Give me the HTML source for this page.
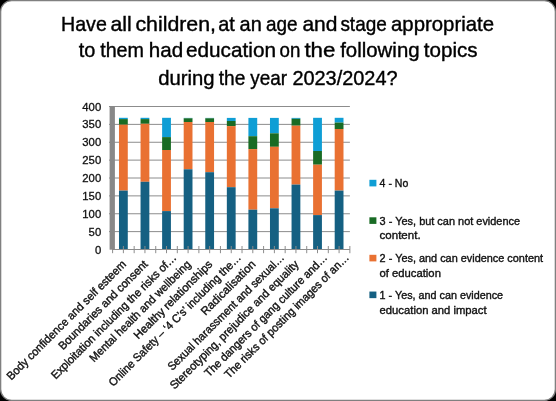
<!DOCTYPE html><html><head><meta charset="utf-8"><style>html,body{margin:0;padding:0;width:556px;height:401px;overflow:hidden;background:#000}</style></head><body><svg width="556" height="401" viewBox="0 0 556 401" style="position:absolute;left:0;top:0;will-change:transform"><rect x="0" y="0" width="556" height="401" fill="#000"/><rect x="0.65" y="0.65" width="554.7" height="399.7" rx="11" ry="11" fill="#fff" stroke="#808080" stroke-width="1.3"/><text x="61.00" y="30.9" textLength="45.80" lengthAdjust="spacingAndGlyphs" font-family="Liberation Sans" font-size="21" fill="#000" stroke="#000" stroke-width="0.4">Have</text><text x="110.40" y="30.9" textLength="21.20" lengthAdjust="spacingAndGlyphs" font-family="Liberation Sans" font-size="21" fill="#000" stroke="#000" stroke-width="0.4">all</text><text x="135.40" y="30.9" textLength="80.60" lengthAdjust="spacingAndGlyphs" font-family="Liberation Sans" font-size="21" fill="#000" stroke="#000" stroke-width="0.4">children,</text><text x="218.20" y="30.9" textLength="16.60" lengthAdjust="spacingAndGlyphs" font-family="Liberation Sans" font-size="21" fill="#000" stroke="#000" stroke-width="0.4">at</text><text x="239.60" y="30.9" textLength="22.20" lengthAdjust="spacingAndGlyphs" font-family="Liberation Sans" font-size="21" fill="#000" stroke="#000" stroke-width="0.4">an</text><text x="266.00" y="30.9" textLength="31.60" lengthAdjust="spacingAndGlyphs" font-family="Liberation Sans" font-size="21" fill="#000" stroke="#000" stroke-width="0.4">age</text><text x="302.40" y="30.9" textLength="35.00" lengthAdjust="spacingAndGlyphs" font-family="Liberation Sans" font-size="21" fill="#000" stroke="#000" stroke-width="0.4">and</text><text x="340.40" y="30.9" textLength="46.40" lengthAdjust="spacingAndGlyphs" font-family="Liberation Sans" font-size="21" fill="#000" stroke="#000" stroke-width="0.4">stage</text><text x="391.00" y="30.9" textLength="103.00" lengthAdjust="spacingAndGlyphs" font-family="Liberation Sans" font-size="21" fill="#000" stroke="#000" stroke-width="0.4">appropriate</text><text x="78.80" y="57.3" textLength="16.60" lengthAdjust="spacingAndGlyphs" font-family="Liberation Sans" font-size="21" fill="#000" stroke="#000" stroke-width="0.4">to</text><text x="100.20" y="57.3" textLength="43.80" lengthAdjust="spacingAndGlyphs" font-family="Liberation Sans" font-size="21" fill="#000" stroke="#000" stroke-width="0.4">them</text><text x="148.80" y="57.3" textLength="34.40" lengthAdjust="spacingAndGlyphs" font-family="Liberation Sans" font-size="21" fill="#000" stroke="#000" stroke-width="0.4">had</text><text x="186.00" y="57.3" textLength="90.00" lengthAdjust="spacingAndGlyphs" font-family="Liberation Sans" font-size="21" fill="#000" stroke="#000" stroke-width="0.4">education</text><text x="279.60" y="57.3" textLength="20.80" lengthAdjust="spacingAndGlyphs" font-family="Liberation Sans" font-size="21" fill="#000" stroke="#000" stroke-width="0.4">on</text><text x="304.40" y="57.3" textLength="31.00" lengthAdjust="spacingAndGlyphs" font-family="Liberation Sans" font-size="21" fill="#000" stroke="#000" stroke-width="0.4">the</text><text x="340.20" y="57.3" textLength="79.40" lengthAdjust="spacingAndGlyphs" font-family="Liberation Sans" font-size="21" fill="#000" stroke="#000" stroke-width="0.4">following</text><text x="423.80" y="57.3" textLength="53.80" lengthAdjust="spacingAndGlyphs" font-family="Liberation Sans" font-size="21" fill="#000" stroke="#000" stroke-width="0.4">topics</text><text x="158.20" y="84.7" textLength="56.40" lengthAdjust="spacingAndGlyphs" font-family="Liberation Sans" font-size="21" fill="#000" stroke="#000" stroke-width="0.4">during</text><text x="218.80" y="84.7" textLength="26.60" lengthAdjust="spacingAndGlyphs" font-family="Liberation Sans" font-size="21" fill="#000" stroke="#000" stroke-width="0.4">the</text><text x="250.20" y="84.7" textLength="36.80" lengthAdjust="spacingAndGlyphs" font-family="Liberation Sans" font-size="21" fill="#000" stroke="#000" stroke-width="0.4">year</text><text x="292.40" y="84.7" textLength="105.20" lengthAdjust="spacingAndGlyphs" font-family="Liberation Sans" font-size="21" fill="#000" stroke="#000" stroke-width="0.4">2023/2024?</text><line x1="109" y1="231.62" x2="349.9" y2="231.62" stroke="#8c8c8c" stroke-width="1"/><line x1="109" y1="213.75" x2="349.9" y2="213.75" stroke="#8c8c8c" stroke-width="1"/><line x1="109" y1="195.88" x2="349.9" y2="195.88" stroke="#8c8c8c" stroke-width="1"/><line x1="109" y1="178.00" x2="349.9" y2="178.00" stroke="#8c8c8c" stroke-width="1"/><line x1="109" y1="160.12" x2="349.9" y2="160.12" stroke="#8c8c8c" stroke-width="1"/><line x1="109" y1="142.25" x2="349.9" y2="142.25" stroke="#8c8c8c" stroke-width="1"/><line x1="109" y1="124.38" x2="349.9" y2="124.38" stroke="#8c8c8c" stroke-width="1"/><line x1="109" y1="106.50" x2="349.9" y2="106.50" stroke="#8c8c8c" stroke-width="1"/><text x="101.2" y="253.50" text-anchor="end" font-family="Liberation Sans" font-size="11.3" fill="#111" stroke="#111" stroke-width="0.3">0</text><text x="101.2" y="235.62" text-anchor="end" font-family="Liberation Sans" font-size="11.3" fill="#111" stroke="#111" stroke-width="0.3">50</text><text x="101.2" y="217.75" text-anchor="end" font-family="Liberation Sans" font-size="11.3" fill="#111" stroke="#111" stroke-width="0.3">100</text><text x="101.2" y="199.88" text-anchor="end" font-family="Liberation Sans" font-size="11.3" fill="#111" stroke="#111" stroke-width="0.3">150</text><text x="101.2" y="182.00" text-anchor="end" font-family="Liberation Sans" font-size="11.3" fill="#111" stroke="#111" stroke-width="0.3">200</text><text x="101.2" y="164.12" text-anchor="end" font-family="Liberation Sans" font-size="11.3" fill="#111" stroke="#111" stroke-width="0.3">250</text><text x="101.2" y="146.25" text-anchor="end" font-family="Liberation Sans" font-size="11.3" fill="#111" stroke="#111" stroke-width="0.3">300</text><text x="101.2" y="128.38" text-anchor="end" font-family="Liberation Sans" font-size="11.3" fill="#111" stroke="#111" stroke-width="0.3">350</text><text x="101.2" y="110.50" text-anchor="end" font-family="Liberation Sans" font-size="11.3" fill="#111" stroke="#111" stroke-width="0.3">400</text><rect x="118.98" y="117.8" width="8.8" height="1.30" fill="#0F9ED5"/><rect x="118.98" y="119.1" width="8.8" height="5.60" fill="#196B24"/><rect x="118.98" y="124.7" width="8.8" height="65.90" fill="#E97132"/><rect x="118.98" y="190.6" width="8.8" height="58.80" fill="#156082"/><rect x="140.55" y="117.8" width="8.8" height="1.30" fill="#0F9ED5"/><rect x="140.55" y="119.1" width="8.8" height="4.70" fill="#196B24"/><rect x="140.55" y="123.8" width="8.8" height="58.00" fill="#E97132"/><rect x="140.55" y="181.8" width="8.8" height="67.60" fill="#156082"/><rect x="162.12" y="117.8" width="8.8" height="19.30" fill="#0F9ED5"/><rect x="162.12" y="137.1" width="8.8" height="12.90" fill="#196B24"/><rect x="162.12" y="150.0" width="8.8" height="61.10" fill="#E97132"/><rect x="162.12" y="211.1" width="8.8" height="38.30" fill="#156082"/><rect x="183.69" y="117.9" width="8.8" height="0.40" fill="#0F9ED5"/><rect x="183.69" y="118.3" width="8.8" height="3.70" fill="#196B24"/><rect x="183.69" y="122.0" width="8.8" height="47.30" fill="#E97132"/><rect x="183.69" y="169.3" width="8.8" height="80.10" fill="#156082"/><rect x="205.26" y="117.9" width="8.8" height="0.40" fill="#0F9ED5"/><rect x="205.26" y="118.3" width="8.8" height="3.70" fill="#196B24"/><rect x="205.26" y="122.0" width="8.8" height="50.20" fill="#E97132"/><rect x="205.26" y="172.2" width="8.8" height="77.20" fill="#156082"/><rect x="226.84" y="117.9" width="8.8" height="3.10" fill="#0F9ED5"/><rect x="226.84" y="121.0" width="8.8" height="5.10" fill="#196B24"/><rect x="226.84" y="126.1" width="8.8" height="61.10" fill="#E97132"/><rect x="226.84" y="187.2" width="8.8" height="62.20" fill="#156082"/><rect x="248.41" y="117.9" width="8.8" height="18.30" fill="#0F9ED5"/><rect x="248.41" y="136.2" width="8.8" height="12.90" fill="#196B24"/><rect x="248.41" y="149.1" width="8.8" height="60.60" fill="#E97132"/><rect x="248.41" y="209.7" width="8.8" height="39.70" fill="#156082"/><rect x="269.98" y="117.9" width="8.8" height="15.40" fill="#0F9ED5"/><rect x="269.98" y="133.3" width="8.8" height="13.50" fill="#196B24"/><rect x="269.98" y="146.8" width="8.8" height="61.50" fill="#E97132"/><rect x="269.98" y="208.3" width="8.8" height="41.10" fill="#156082"/><rect x="291.55" y="117.9" width="8.8" height="0.90" fill="#0F9ED5"/><rect x="291.55" y="118.8" width="8.8" height="6.90" fill="#196B24"/><rect x="291.55" y="125.7" width="8.8" height="58.90" fill="#E97132"/><rect x="291.55" y="184.6" width="8.8" height="64.80" fill="#156082"/><rect x="313.12" y="117.8" width="8.8" height="33.20" fill="#0F9ED5"/><rect x="313.12" y="151.0" width="8.8" height="13.70" fill="#196B24"/><rect x="313.12" y="164.7" width="8.8" height="50.40" fill="#E97132"/><rect x="313.12" y="215.1" width="8.8" height="34.30" fill="#156082"/><rect x="334.69" y="117.8" width="8.8" height="4.80" fill="#0F9ED5"/><rect x="334.69" y="122.6" width="8.8" height="6.40" fill="#196B24"/><rect x="334.69" y="129.0" width="8.8" height="61.60" fill="#E97132"/><rect x="334.69" y="190.6" width="8.8" height="58.80" fill="#156082"/><line x1="112.6" y1="249.5" x2="349.9" y2="249.5" stroke="#8c8c8c" stroke-width="1.1"/><line x1="112.60" y1="246" x2="112.60" y2="253.2" stroke="#8c8c8c" stroke-width="1"/><line x1="123.38" y1="246" x2="123.38" y2="253.2" stroke="#8c8c8c" stroke-width="1"/><line x1="134.17" y1="246" x2="134.17" y2="253.2" stroke="#8c8c8c" stroke-width="1"/><line x1="144.95" y1="246" x2="144.95" y2="253.2" stroke="#8c8c8c" stroke-width="1"/><line x1="155.74" y1="246" x2="155.74" y2="253.2" stroke="#8c8c8c" stroke-width="1"/><line x1="166.52" y1="246" x2="166.52" y2="253.2" stroke="#8c8c8c" stroke-width="1"/><line x1="177.31" y1="246" x2="177.31" y2="253.2" stroke="#8c8c8c" stroke-width="1"/><line x1="188.09" y1="246" x2="188.09" y2="253.2" stroke="#8c8c8c" stroke-width="1"/><line x1="198.88" y1="246" x2="198.88" y2="253.2" stroke="#8c8c8c" stroke-width="1"/><line x1="209.66" y1="246" x2="209.66" y2="253.2" stroke="#8c8c8c" stroke-width="1"/><line x1="220.45" y1="246" x2="220.45" y2="253.2" stroke="#8c8c8c" stroke-width="1"/><line x1="231.24" y1="246" x2="231.24" y2="253.2" stroke="#8c8c8c" stroke-width="1"/><line x1="242.02" y1="246" x2="242.02" y2="253.2" stroke="#8c8c8c" stroke-width="1"/><line x1="252.81" y1="246" x2="252.81" y2="253.2" stroke="#8c8c8c" stroke-width="1"/><line x1="263.59" y1="246" x2="263.59" y2="253.2" stroke="#8c8c8c" stroke-width="1"/><line x1="274.38" y1="246" x2="274.38" y2="253.2" stroke="#8c8c8c" stroke-width="1"/><line x1="285.16" y1="246" x2="285.16" y2="253.2" stroke="#8c8c8c" stroke-width="1"/><line x1="295.94" y1="246" x2="295.94" y2="253.2" stroke="#8c8c8c" stroke-width="1"/><line x1="306.73" y1="246" x2="306.73" y2="253.2" stroke="#8c8c8c" stroke-width="1"/><line x1="317.51" y1="246" x2="317.51" y2="253.2" stroke="#8c8c8c" stroke-width="1"/><line x1="328.30" y1="246" x2="328.30" y2="253.2" stroke="#8c8c8c" stroke-width="1"/><line x1="339.09" y1="246" x2="339.09" y2="253.2" stroke="#8c8c8c" stroke-width="1"/><line x1="349.87" y1="246" x2="349.87" y2="253.2" stroke="#8c8c8c" stroke-width="1"/><rect x="109.6" y="106.2" width="5.3" height="143.5" fill="#888888"/><rect x="369.4" y="179.8" width="7" height="6.6" fill="#0F9ED5"/><text x="379.6" y="187.00" textLength="28.7" lengthAdjust="spacingAndGlyphs" font-family="Liberation Sans" font-size="11.5" fill="#111" stroke="#111" stroke-width="0.38">4 - No</text><rect x="369.4" y="217.3" width="7" height="6.6" fill="#196B24"/><text x="379.6" y="224.50" textLength="140.5" lengthAdjust="spacingAndGlyphs" font-family="Liberation Sans" font-size="11.5" fill="#111" stroke="#111" stroke-width="0.38">3 - Yes, but can not evidence</text><text x="379.6" y="239.25" textLength="41.0" lengthAdjust="spacingAndGlyphs" font-family="Liberation Sans" font-size="11.5" fill="#111" stroke="#111" stroke-width="0.38">content.</text><rect x="369.4" y="254.8" width="7" height="6.6" fill="#E97132"/><text x="379.6" y="262.00" textLength="163.5" lengthAdjust="spacingAndGlyphs" font-family="Liberation Sans" font-size="11.5" fill="#111" stroke="#111" stroke-width="0.38">2 - Yes, and can evidence content</text><text x="379.6" y="276.75" textLength="61.3" lengthAdjust="spacingAndGlyphs" font-family="Liberation Sans" font-size="11.5" fill="#111" stroke="#111" stroke-width="0.38">of education</text><rect x="369.4" y="291.55" width="7" height="6.6" fill="#156082"/><text x="379.6" y="298.75" textLength="123.5" lengthAdjust="spacingAndGlyphs" font-family="Liberation Sans" font-size="11.5" fill="#111" stroke="#111" stroke-width="0.38">1 - Yes, and can evidence</text><text x="379.6" y="313.50" textLength="107.0" lengthAdjust="spacingAndGlyphs" font-family="Liberation Sans" font-size="11.5" fill="#111" stroke="#111" stroke-width="0.38">education and impact</text><text x="0" y="0" text-anchor="end" textLength="163.6" lengthAdjust="spacingAndGlyphs" transform="translate(126.88,265.0) rotate(-45)" font-family="Liberation Sans" font-size="11.5" fill="#111" stroke="#111" stroke-width="0.38">Body confidence and self esteem</text><text x="0" y="0" text-anchor="end" textLength="121.0" lengthAdjust="spacingAndGlyphs" transform="translate(148.45,265.0) rotate(-45)" font-family="Liberation Sans" font-size="11.5" fill="#111" stroke="#111" stroke-width="0.38">Boundaries and consent</text><text x="0" y="0" text-anchor="end" textLength="171.6" lengthAdjust="spacingAndGlyphs" transform="translate(177.02,258.4) rotate(-45)" font-family="Liberation Sans" font-size="11.5" fill="#111" stroke="#111" stroke-width="0.38">Exploitation including the risks of…</text><text x="0" y="0" text-anchor="end" textLength="138.1" lengthAdjust="spacingAndGlyphs" transform="translate(191.59,265.0) rotate(-45)" font-family="Liberation Sans" font-size="11.5" fill="#111" stroke="#111" stroke-width="0.38">Mental health and wellbeing</text><text x="0" y="0" text-anchor="end" textLength="105.8" lengthAdjust="spacingAndGlyphs" transform="translate(213.16,265.0) rotate(-45)" font-family="Liberation Sans" font-size="11.5" fill="#111" stroke="#111" stroke-width="0.38">Healthy relationships</text><text x="0" y="0" text-anchor="end" textLength="181.8" lengthAdjust="spacingAndGlyphs" transform="translate(241.74,258.4) rotate(-45)" font-family="Liberation Sans" font-size="11.5" fill="#111" stroke="#111" stroke-width="0.38">Online Safety – ‘4 C’s’ including the…</text><text x="0" y="0" text-anchor="end" textLength="72.0" lengthAdjust="spacingAndGlyphs" transform="translate(256.31,265.0) rotate(-45)" font-family="Liberation Sans" font-size="11.5" fill="#111" stroke="#111" stroke-width="0.38">Radicalisation</text><text x="0" y="0" text-anchor="end" textLength="159.3" lengthAdjust="spacingAndGlyphs" transform="translate(284.88,258.4) rotate(-45)" font-family="Liberation Sans" font-size="11.5" fill="#111" stroke="#111" stroke-width="0.38">Sexual harassment and sexual…</text><text x="0" y="0" text-anchor="end" textLength="176.6" lengthAdjust="spacingAndGlyphs" transform="translate(299.44,265.0) rotate(-45)" font-family="Liberation Sans" font-size="11.5" fill="#111" stroke="#111" stroke-width="0.38">Stereotyping, prejudice and equality</text><text x="0" y="0" text-anchor="end" textLength="168.3" lengthAdjust="spacingAndGlyphs" transform="translate(328.01,258.4) rotate(-45)" font-family="Liberation Sans" font-size="11.5" fill="#111" stroke="#111" stroke-width="0.38">The dangers of gang culture and…</text><text x="0" y="0" text-anchor="end" textLength="170.4" lengthAdjust="spacingAndGlyphs" transform="translate(349.59,258.4) rotate(-45)" font-family="Liberation Sans" font-size="11.5" fill="#111" stroke="#111" stroke-width="0.38">The risks of posting images of an…</text></svg></body></html>
